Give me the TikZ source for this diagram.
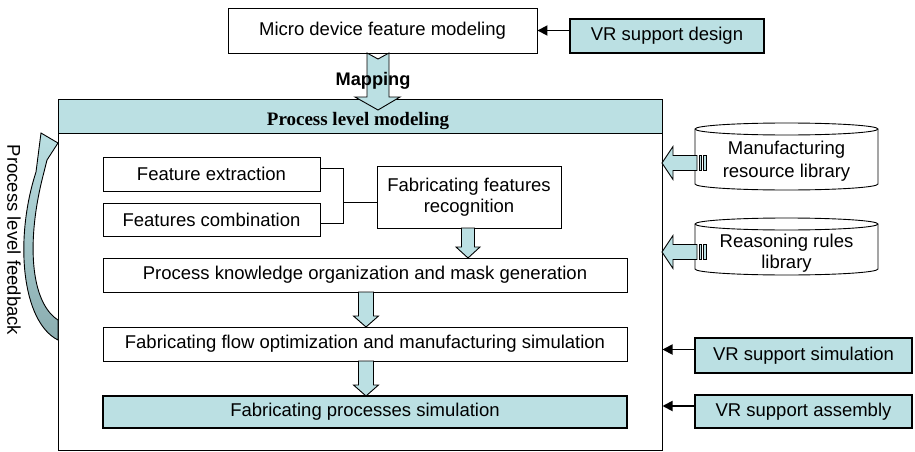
\documentclass[tikz,border=0pt]{standalone}
\usepackage{fontspec}
\setmainfont{Liberation Sans}
\newfontfamily\timesfont{Liberation Serif}
\usetikzlibrary{arrows.meta,calc}
\definecolor{cyanfill}{RGB}{187,224,227}
\definecolor{tealdark}{RGB}{138,172,175}
\newcommand\blkdown[5]{% x, ytop, ybot, shaft half, head half
  \filldraw[blockarr] (#1-#4,#2) -- (#1-#4,#3-11) -- (#1-#5,#3-11) -- (#1,#3)
    -- (#1+#5,#3-11) -- (#1+#4,#3-11) -- (#1+#4,#2) -- cycle;}
\newcommand\blkleft[1]{% y centre
  \filldraw[blockarr] (662,#1) -- (673,#1-16.5) -- (673,#1-7.5) -- (697,#1-7.5)
    -- (697,#1+7.5) -- (673,#1+7.5) -- (673,#1+16.5) -- cycle;
  \filldraw[blockarr] (699,#1-7.5) rectangle (701.5,#1+7.5);
  \filldraw[blockarr] (703.5,#1-7.5) rectangle (706,#1+7.5);}
\newcommand\cyl[3]{% top y, bottom y, ry
  \filldraw[line width=0.9pt, fill=white] (695,#1+#3) -- (695,#2-#3)
    arc[start angle=180, end angle=0, x radius=91.5, y radius=#3] -- (878,#1+#3)
    arc[start angle=0, end angle=-180, x radius=91.5, y radius=#3] -- cycle;
  \draw[line width=0.9pt] (695,#1+#3) arc[start angle=180, end angle=0, x radius=91.5, y radius=#3];}
\begin{document}
\begin{tikzpicture}[x=1pt,y=-1pt,
  font=\fontsize{18.5}{21}\selectfont,
  box/.style={draw, line width=0.9pt, inner sep=0pt, align=center, fill=white},
  vrbox/.style={draw, line width=2.3pt, inner sep=0pt, align=center, fill=cyanfill},
  blockarr/.style={draw, line width=0.9pt, fill=cyanfill},
  thinarr/.style={line width=1.8pt, -{Triangle[length=10pt,width=10pt]}}]
\useasboundingbox (0,0) rectangle (915,452);

% top
\node[box, minimum width=309pt, minimum height=45pt] (micro) at (382.5,30.5) {Micro device feature modeling};
\node[vrbox, minimum width=194pt, minimum height=34pt] (vrdesign) at (667,36) {VR support design};
\draw[thinarr] (vrdesign.west |- micro.east) -- (micro.east);

% main frame
\node[draw, line width=1pt, minimum width=604pt, minimum height=351pt, inner sep=0pt] (outer) at (360,274.5) {};
\node[draw, line width=1pt, fill=cyanfill, minimum width=604pt, minimum height=34pt, inner sep=0pt] (header) at (360,116) {};
\node[font=\fontsize{19}{21}\selectfont\timesfont\bfseries, inner sep=0pt] (headertext) at (358,121) {Process level modeling};

% mapping arrow
\filldraw[blockarr] (367,53) -- (378,59) -- (389,53) -- (389,97) -- (400,97) -- (378,110)
   -- (355,97) -- (367,97) -- cycle;
\node[font=\fontsize{18.2}{21}\selectfont\bfseries, inner sep=0pt] (mapping) at (373,81) {Mapping};

% inner boxes
\node[box, minimum width=217pt, minimum height=34pt] (fe) at (211.5,174) {Feature extraction};
\node[box, minimum width=217pt, minimum height=33pt] (fc) at (211.5,219.5) {Features combination};
\node[box, minimum width=184pt, minimum height=62pt] (ffr) at (469,197) {Fabricating features\\recognition};
\node[box, minimum width=524pt, minimum height=34pt] (pko) at (365,275) {Process knowledge organization and mask generation};
\node[box, minimum width=524pt, minimum height=34pt] (ffo) at (365,344) {Fabricating flow optimization and manufacturing simulation};
\node[box, line width=2.3pt, fill=cyanfill, minimum width=524pt, minimum height=32pt] (fps) at (365,412) {Fabricating processes simulation};

% connector bracket
\coordinate (j1) at ([yshift=6pt]fe.east);
\coordinate (j2) at ([yshift=-3.5pt]fc.east);
\coordinate (jm) at (343,202);
\draw[line width=0.9pt] (j1) -- (j1 -| jm) -- (j2 -| jm) -- (j2);
\draw[line width=0.9pt] (jm) -- (jm -| ffr.west);

% inner block arrows
\blkdown{468}{228}{258}{6.5}{12}
\blkdown{366}{292}{327}{7.5}{12.5}
\blkdown{366}{361}{396}{7.5}{12.5}

% cylinders
\cyl{123}{190}{6}
\cyl{218}{275}{6}
\node[align=center, inner sep=0pt, font=\fontsize{18.5}{23}\selectfont] (mrl) at (786.5,161) {Manufacturing\\resource library};
\node[align=center, inner sep=0pt, font=\fontsize{18.5}{21}\selectfont] (rrl) at (786.5,253) {Reasoning rules\\library};
\blkleft{163}
\blkleft{252}

% VR support boxes
\node[vrbox, minimum width=217pt, minimum height=35pt] (vrsim) at (803.5,355.5) {VR support simulation};
\node[vrbox, minimum width=217pt, minimum height=33pt] (vrass) at (803.5,411.5) {VR support assembly};
\coordinate (s1) at ([yshift=6pt]vrsim.west);
\coordinate (s2) at ([yshift=5.5pt]vrass.west);
\draw[thinarr] (s1) -- (s1 -| outer.east);
\draw[thinarr] (s2) -- (s2 -| outer.east);

% feedback arrow
\path[draw, line width=0.9pt, top color=cyanfill, bottom color=tealdark]
  (58,340) .. controls (22,322) and (14,240) .. (36,172)
  -- (41,133) -- (58,143) -- (47,160)
  -- (44,172) .. controls (26,240) and (30,302) .. (58,320) -- cycle;
\node[rotate=-90, inner sep=0pt] (fbtext) at (14,240) {Process level feedback};
\end{tikzpicture}
\end{document}
